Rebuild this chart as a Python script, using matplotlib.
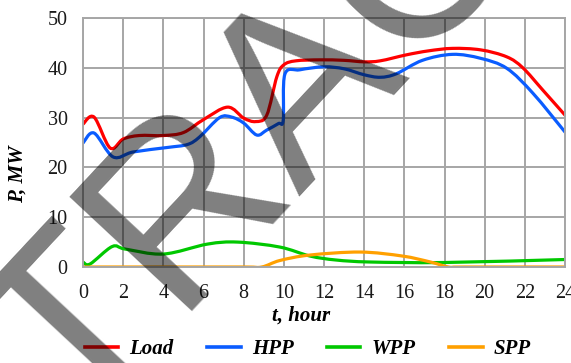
import numpy as np
import matplotlib
matplotlib.use("Agg")
import matplotlib.pyplot as plt
from matplotlib.path import Path
from matplotlib.patches import PathPatch
from matplotlib.lines import Line2D
from matplotlib.font_manager import FontProperties

# hourly power profiles, MW (breakpoints of the smoothed curves)
load_h = [0, 0.55, 1.35, 2.0, 2.8, 4.0, 5.0, 6.0, 7.2, 8.0, 8.6, 9.15, 9.65, 10.0, 10.6, 11.8,
          13.0, 14.0, 14.8, 16.1, 17.2, 18.4, 19.8, 21.1, 21.9, 22.9, 24.0]
load_mw = [28.7, 30.1, 23.9, 25.7, 26.4, 26.4, 27.0, 29.6, 32.1, 29.9, 29.2, 30.5, 38.2, 40.6, 41.4, 41.6,
           41.5, 41.2, 41.4, 42.6, 43.4, 43.9, 43.6, 42.2, 40.0, 35.5, 30.5]

hpp_h = [0, 0.55, 1.5, 2.5, 4.2, 5.2, 5.8, 6.8, 7.4, 8.0, 8.65, 9.15, 9.73, 9.97, 10.05, 10.8,
         12.0, 13.0, 14.0, 14.8, 15.6, 16.9, 18.4, 19.8, 21.1, 22.4, 24.0]
hpp_mw = [24.9, 26.9, 22.1, 23.1, 24.0, 24.6, 26.1, 30.0, 30.1, 28.9, 26.5, 27.5, 28.8, 29.5, 38.7, 39.6,
          40.2, 39.8, 38.6, 38.1, 38.8, 41.5, 42.7, 41.9, 39.9, 34.9, 27.1]

wpp_h = [0, 0.35, 1.45, 2.1, 4.0, 6.2, 7.7, 9.8, 11.3, 12.6, 14.3, 18.0, 24.0]
wpp_mw = [1.0, 0.6, 4.1, 3.6, 2.6, 4.6, 5.0, 4.0, 2.2, 1.4, 1.0, 0.9, 1.5]

spp_h = [0, 4.0, 8.0, 8.9, 9.8, 11.3, 13.8, 15.9, 17.3, 18.2, 19.0, 24.0]
spp_mw = [0, 0, 0, 0, 1.3, 2.4, 3.0, 2.2, 1.0, 0, 0, 0]

series = [("Load", load_h, load_mw, "#ff0000"),
          ("HPP", hpp_h, hpp_mw, "#0a5cff"),
          ("WPP", wpp_h, wpp_mw, "#00c800"),
          ("SPP", spp_h, spp_mw, "#ffa000")]


def smooth_path(x, y):
    # cubic bezier through every point (catmull-rom style, like spreadsheet smoothing)
    pts = np.column_stack([x, y]).astype(float)
    n = len(pts)
    verts = [pts[0]]
    codes = [Path.MOVETO]
    for i in range(n - 1):
        p0 = pts[max(i - 1, 0)]
        p1 = pts[i]
        p2 = pts[i + 1]
        p3 = pts[min(i + 2, n - 1)]
        verts += [p1 + (p2 - p0) / 6, p2 - (p3 - p1) / 6, p2]
        codes += [Path.CURVE4] * 3
    return Path(verts, codes)


serif = "Liberation Serif"
grid_col = "#a6a6a6"

fig = plt.figure(figsize=(5.71, 3.63), dpi=100)
ax = fig.add_axes([0.1454, 0.2645, 0.8441, 0.6859])
ax.set_xlim(0, 24)
ax.set_ylim(0, 50)
ax.set_xticks(range(0, 25, 2))
ax.set_yticks(range(0, 51, 10))
ax.grid(color=grid_col, lw=1.4)
ax.set_axisbelow(True)
for sp in ax.spines.values():
    sp.set_color(grid_col)
    sp.set_linewidth(1.4)
ax.tick_params(length=0, labelsize=14.5, colors="#1a1a1a")
ax.tick_params(axis="x", pad=12)
ax.tick_params(axis="y", pad=11)
for lab in ax.get_xticklabels() + ax.get_yticklabels():
    lab.set_family(serif)

for name, h, mw, col in series:
    ax.add_patch(PathPatch(smooth_path(h, mw), fill=False, ec=col, lw=2.3,
                           capstyle="round", joinstyle="round"))

lab_font = FontProperties(family=serif, style="italic", weight="bold", size=15)
fig.text(301 / 571, 1 - 316 / 363, "t, hour", fontproperties=lab_font,
         ha="center", va="center")
fig.text(18 / 571, 1 - 174 / 363, "P, MW", fontproperties=lab_font,
         ha="center", va="center", rotation=90)

handles = [Line2D([], [], color=col, lw=2.6) for _, _, _, col in series]
fig.legend(handles, [s[0] for s in series], loc="center",
           bbox_to_anchor=(308 / 571, 1 - 349 / 363), ncol=4, frameon=False,
           prop=lab_font, handlelength=1.6, handletextpad=0.55, columnspacing=1.6)

# stamp across the figure
fig.text(349 / 571, 1 - 122 / 363, "RETRACTED", family="Liberation Sans", fontsize=176,
         color="black", alpha=0.5, rotation=47, ha="center", va="baseline",
         rotation_mode="anchor", zorder=10)

fig.savefig("out.png", dpi=100)
